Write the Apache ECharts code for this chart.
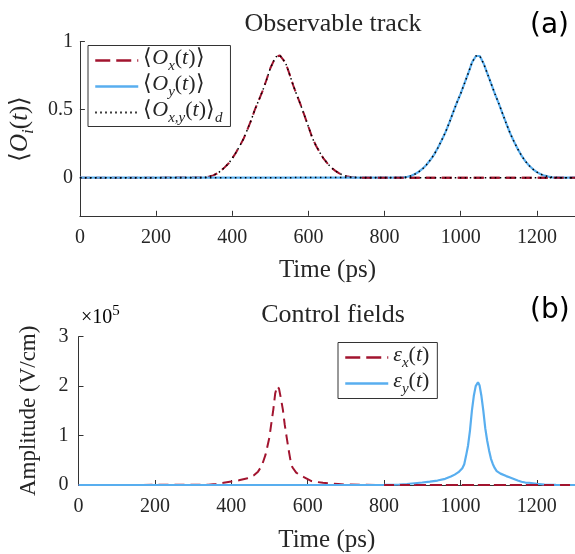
<!DOCTYPE html>
<html>
<head>
<meta charset="utf-8">
<script src="https://cdn.jsdelivr.net/npm/echarts@6/dist/echarts.min.js"></script>
<style>html,body{margin:0;padding:0;background:#fff}#c{width:575px;height:554px}</style>
</head>
<body>
<div id="c"></div>
<script>
// ---- data ----
const xTickValues = [0, 200, 400, 600, 800, 1000, 1200];
const yTicksTop = [0, 0.5, 1];
const yTicksBottom = [0, 1, 2, 3];   // in units of 1e5 V/cm

// <O_x(t)>
const oxTime = [0, 320, 330, 340, 350, 360, 370, 380, 390, 400, 410, 420, 430, 440, 450, 460, 470, 480, 490, 500, 510, 515, 520, 525, 530, 540, 550, 560, 570, 580, 590, 600, 610, 620, 630, 640, 650, 660, 670, 680, 690, 700, 710, 720, 740, 1300];
const oxValue = [0, 0.001, 0.004, 0.009, 0.017, 0.031, 0.05, 0.076, 0.104, 0.142, 0.186, 0.235, 0.288, 0.356, 0.425, 0.505, 0.572, 0.64, 0.72, 0.805, 0.866, 0.888, 0.899, 0.9, 0.895, 0.845, 0.765, 0.68, 0.605, 0.533, 0.455, 0.375, 0.295, 0.235, 0.185, 0.14, 0.105, 0.075, 0.052, 0.034, 0.02, 0.011, 0.005, 0.002, 0, 0];

// <O_y(t)>
const oyTime = [0, 840, 850, 860, 870, 880, 890, 900, 910, 920, 930, 940, 950, 960, 970, 980, 990, 1000, 1010, 1020, 1030, 1040, 1045, 1050, 1060, 1070, 1080, 1090, 1100, 1110, 1120, 1130, 1140, 1150, 1160, 1170, 1180, 1190, 1200, 1210, 1220, 1230, 1240, 1250, 1260, 1300];
const oyValue = [0, 0.001, 0.003, 0.007, 0.014, 0.027, 0.044, 0.066, 0.095, 0.13, 0.17, 0.22, 0.276, 0.335, 0.405, 0.48, 0.553, 0.62, 0.695, 0.77, 0.85, 0.895, 0.902, 0.895, 0.84, 0.765, 0.69, 0.615, 0.545, 0.47, 0.395, 0.325, 0.265, 0.21, 0.16, 0.12, 0.088, 0.062, 0.041, 0.026, 0.015, 0.008, 0.003, 0.001, 0, 0];

// epsilon_x(t), x 1e5 V/cm
const exTime = [0, 340, 360, 380, 400, 420, 440, 450, 460, 470, 480, 490, 500, 505, 510, 515, 520, 525, 530, 535, 540, 545, 550, 555, 560, 570, 580, 590, 600, 610, 620, 640, 660, 680, 700, 750, 800, 1300];
const exValue = [0, 0.005, 0.02, 0.045, 0.07, 0.095, 0.13, 0.165, 0.2, 0.27, 0.39, 0.62, 0.97, 1.25, 1.52, 1.85, 2.0, 1.95, 1.75, 1.53, 1.22, 0.97, 0.72, 0.5, 0.36, 0.25, 0.2, 0.16, 0.12, 0.08, 0.065, 0.045, 0.03, 0.02, 0.01, 0.005, 0, 0];

// epsilon_y(t), x 1e5 V/cm
const eyTime = [0, 800, 820, 840, 860, 880, 900, 920, 940, 960, 975, 985, 995, 1000, 1005, 1010, 1015, 1020, 1025, 1030, 1035, 1040, 1046, 1050, 1055, 1060, 1065, 1070, 1075, 1080, 1085, 1090, 1095, 1100, 1105, 1110, 1120, 1130, 1140, 1150, 1160, 1170, 1180, 1190, 1200, 1220, 1250, 1300];
const eyValue = [0, 0.002, 0.005, 0.01, 0.02, 0.035, 0.05, 0.068, 0.09, 0.125, 0.17, 0.21, 0.26, 0.3, 0.34, 0.42, 0.6, 0.8, 1.1, 1.5, 1.8, 2.0, 2.08, 2.02, 1.8, 1.5, 1.15, 0.9, 0.7, 0.53, 0.42, 0.34, 0.28, 0.25, 0.23, 0.21, 0.18, 0.15, 0.12, 0.09, 0.065, 0.05, 0.045, 0.035, 0.025, 0.01, 0.003, 0];

// ---- helpers ----
const zip = (a, b) => a.map((t, i) => [t, b[i]]);
const SERIF = '"Liberation Serif", "Times New Roman", serif';
const TXT = '#262626';
const RED = '#A2142F';
const BLUE = '#58AEEF';

function makeRich(fs, sfs, drop) {
  return {
    b: { fontFamily: SERIF, fontSize: fs, lineHeight: fs + 4, verticalAlign: 'top', color: TXT },
    i: { fontFamily: SERIF, fontSize: fs, lineHeight: fs + 4, verticalAlign: 'top', fontStyle: 'italic', color: TXT },
    s: { fontFamily: SERIF, fontSize: sfs, lineHeight: sfs + 2, verticalAlign: 'top', fontStyle: 'italic', color: TXT, padding: [drop, 0, 0, 0] }
  };
}
const rich = makeRich(22, 15, 11);
const richBig = makeRich(25, 17, 12);

const legendLabels = {
  ox: '{b|⟨}{i|O}{s|x}{b|(}{i|t}{b|)⟩}',
  oy: '{b|⟨}{i|O}{s|y}{b|(}{i|t}{b|)⟩}',
  d: '{b|⟨}{i|O}{s|x,y}{b|(}{i|t}{b|)⟩}{s|d}',
  ex: '{i|ε}{s|x}{b|(}{i|t}{b|)}',
  ey: '{i|ε}{s|y}{b|(}{i|t}{b|)}'
};

const gridLeft = 78.5;
const grids = [
  { left: gridLeft, top: 41.7, width: 575 - gridLeft, height: 174.1 },
  { left: gridLeft, top: 336.7, width: 575 - gridLeft, height: 157.3 }
];

function xAxis(gi) {
  return {
    type: 'value', gridIndex: gi, min: 0, max: 1300,
    name: 'Time (ps)', nameLocation: 'middle', nameGap: gi === 0 ? 42 : 43,
    nameTextStyle: { fontFamily: SERIF, fontSize: 25, color: TXT },
    axisLine: { show: true, onZero: false, lineStyle: { color: '#333', width: 1 } },
    axisTick: { show: true, inside: true, length: 5, customValues: xTickValues, lineStyle: { color: '#333' } },
    axisLabel: { customValues: xTickValues, formatter: v => String(v), fontFamily: SERIF, fontSize: 20, color: TXT, margin: 12 },
    splitLine: { show: false }
  };
}

const legendCommon = {
  orient: 'vertical', itemGap: 0, itemWidth: 43, itemHeight: 26,
  backgroundColor: '#fff', borderColor: '#333', borderWidth: 1, borderRadius: 0,
  itemStyle: { color: 'rgba(0,0,0,0)', borderColor: 'rgba(0,0,0,0)', borderWidth: 0, opacity: 0 },
  formatter: n => legendLabels[n], textStyle: { rich: rich }, selectedMode: false
};
const dashLegend = { type: [15, 6], width: 2.5 };

const option = {
  animation: false,
  backgroundColor: '#fff',
  title: [
    { text: 'Observable track', left: 328, top: 6, textAlign: 'center',
      textStyle: { fontFamily: SERIF, fontSize: 26, fontWeight: 'normal', color: TXT } },
    { text: 'Control fields', left: 328, top: 297, textAlign: 'center',
      textStyle: { fontFamily: SERIF, fontSize: 26, fontWeight: 'normal', color: TXT } }
  ],
  grid: grids,
  xAxis: [xAxis(0), xAxis(1)],
  yAxis: [
    { type: 'value', gridIndex: 0, min: -0.28, max: 1,
      name: '{b|⟨}{i|O}{s|i}{b|(}{i|t}{b|)⟩}', nameLocation: 'middle', nameGap: 38, nameRotate: 90,
      nameTextStyle: { rich: richBig },
      axisLine: { show: true, lineStyle: { color: '#333', width: 1 } },
      axisTick: { show: true, inside: true, length: 5, customValues: yTicksTop, lineStyle: { color: '#333' } },
      axisLabel: { customValues: yTicksTop, fontFamily: SERIF, fontSize: 20, color: TXT, margin: 7 },
      splitLine: { show: false } },
    { type: 'value', gridIndex: 1, min: 0, max: 3, interval: 1,
      name: 'Amplitude (V/cm)', nameLocation: 'middle', nameGap: 38, nameRotate: 90,
      nameTextStyle: { fontFamily: SERIF, fontSize: 23, color: TXT },
      axisLine: { show: true, lineStyle: { color: '#333', width: 1 } },
      axisTick: { show: true, inside: true, length: 5, customValues: yTicksBottom, lineStyle: { color: '#333' } },
      axisLabel: { customValues: yTicksBottom, fontFamily: SERIF, fontSize: 20, color: TXT, margin: 10 },
      splitLine: { show: false } }
  ],
  legend: [
    Object.assign({}, legendCommon, {
      data: [{ name: 'ox', lineStyle: dashLegend }, { name: 'oy', lineStyle: { width: 2.5 } }, { name: 'd' }],
      left: 88, top: 45.5, padding: [2, 8, 1, 6] }),
    Object.assign({}, legendCommon, {
      data: [{ name: 'ex', lineStyle: dashLegend }, { name: 'ey', lineStyle: { width: 2.5 } }],
      left: 338, top: 342.5, padding: [2, 8, 2, 6] })
  ],
  graphic: [
    { type: 'text', left: 530, top: 12, style: { text: '(a)', font: '28px "DejaVu Sans", sans-serif', fill: '#000' } },
    { type: 'text', left: 530, top: 297, style: { text: '(b)', font: '28px "DejaVu Sans", sans-serif', fill: '#000' } },
    { type: 'text', left: 81, top: 304, style: { text: '{a|×10}{s|5}', rich: {
        a: { fontFamily: SERIF, fontSize: 20, lineHeight: 24, verticalAlign: 'bottom', color: TXT },
        s: { fontFamily: SERIF, fontSize: 15, lineHeight: 16, verticalAlign: 'top', color: TXT } } } }
  ],
  series: [
    { name: 'ox', type: 'line', xAxisIndex: 0, yAxisIndex: 0, symbol: 'none', z: 2,
      data: zip(oxTime, oxValue), lineStyle: { color: RED, width: 2, type: [10, 6] }, itemStyle: { color: RED } },
    { name: 'oy', type: 'line', xAxisIndex: 0, yAxisIndex: 0, symbol: 'none', z: 3,
      data: zip(oyTime, oyValue), lineStyle: { color: BLUE, width: 2.2, type: 'solid' }, itemStyle: { color: BLUE } },
    { name: 'oxTail', type: 'line', xAxisIndex: 0, yAxisIndex: 0, symbol: 'none', z: 4,
      data: zip(oxTime, oxValue).filter(p => p[0] >= 740), lineStyle: { color: RED, width: 2, type: [10, 6] }, itemStyle: { color: RED } },
    { name: 'd', type: 'line', xAxisIndex: 0, yAxisIndex: 0, symbol: 'none', z: 5,
      data: zip(oxTime, oxValue), lineStyle: { color: '#000', width: 1.5, type: [1.5, 3.5] }, itemStyle: { color: '#000' } },
    { name: 'd', type: 'line', xAxisIndex: 0, yAxisIndex: 0, symbol: 'none', z: 5,
      data: zip(oyTime, oyValue), lineStyle: { color: '#000', width: 1.5, type: [1.5, 3.5] }, itemStyle: { color: '#000' } },

    { name: 'ex', type: 'line', xAxisIndex: 1, yAxisIndex: 1, symbol: 'none', z: 2,
      data: zip(exTime, exValue), lineStyle: { color: RED, width: 2, type: [10, 6] }, itemStyle: { color: RED } },
    { name: 'ey', type: 'line', xAxisIndex: 1, yAxisIndex: 1, symbol: 'none', z: 3,
      data: zip(eyTime, eyValue), lineStyle: { color: BLUE, width: 2.2, type: 'solid' }, itemStyle: { color: BLUE } },
    { name: 'exTail', type: 'line', xAxisIndex: 1, yAxisIndex: 1, symbol: 'none', z: 4,
      data: zip(exTime, exValue).filter(p => p[0] >= 800), lineStyle: { color: RED, width: 2, type: [10, 6] }, itemStyle: { color: RED } }
  ]
};

const chart = echarts.init(document.getElementById('c'), null, { renderer: 'canvas' });
chart.setOption(option);
</script>
</body>
</html>
